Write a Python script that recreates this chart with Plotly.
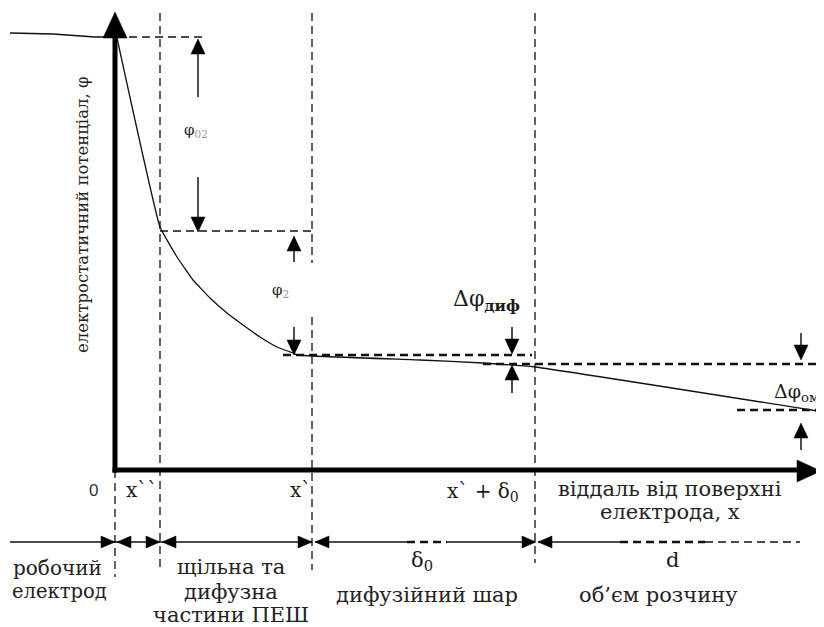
import plotly.graph_objects as go

# ---- schematic data (drawing units = pixels of the 824x627 canvas) ----
# potential profile phi(x)
metal_x = [10, 53, 95, 117]
metal_y = [33, 34, 37, 37]
profile_x = [117, 160, 177, 193, 210, 227, 243, 260, 277, 293, 297, 420, 483, 535, 824]
profile_y = [38, 227, 257, 280, 298, 313, 325, 337, 347, 353, 355, 360, 363, 367, 412]

# boundaries: 0, x``, x`, x`+δ0
bound_x = [115, 160, 312, 535]
bound_top = [470, 13, 13, 13]
bound_bot = [577, 570, 570, 563]

# horizontal dashed reference levels: (x0, x1, y, width)
levels = [
    (116, 202, 37, 1.5),
    (160, 312, 231, 1.5),
    (283, 532, 355, 2.5),
    (483, 824, 364, 2.5),
    (737, 824, 410, 2.5),
]

# measuring arrows: (x, stem_from, tip_y)
meas_arrows = [
    (198, 97, 39), (198, 177, 232),     # φ02
    (294, 262, 236), (294, 327, 355),   # φ2
    (512, 327, 354), (512, 393, 365),   # Δφдиф
    (801, 333, 360), (801, 450, 423),   # Δφом
]

# bottom dimension line (y level) with segments (x0, x1, style)
dim_y = 542
dim_segments = [
    (10, 115, "solid"), (115, 160, "solid"), (160, 312, "solid"),
    (315, 407, "solid"), (407, 447, "dashthick"), (447, 535, "solid"),
    (538, 620, "solid"), (620, 705, "dashthick"), (705, 800, "dash"),
]
# dimension arrowheads: (tip_x, direction)
dim_heads = [(115, "r"), (117, "l"), (160, "r"), (162, "l"),
             (312, "r"), (315, "l"), (536, "r"), (538, "l")]

# axis
axis_origin = (115, 470)
axis_top = 12
axis_right = 821

SERIF = "DejaVu Serif"
SANS = "Liberation Sans"

# labels: (x, y, text, size, family, color)
labels = [
    (93, 490, "0", 17, SANS, "#333333"),
    (141, 490, "x``", 20, SERIF, "#1a1a1a"),
    (300, 490, "x`", 20, SERIF, "#1a1a1a"),
    (483, 492, "x` + δ<sub>0</sub>", 20, SERIF, "#1a1a1a"),
    (670, 489, "віддаль від поверхні", 21, SERIF, "#222222"),
    (670, 512, "електрода, x", 21, SERIF, "#222222"),
    (422, 561, "δ<sub>0</sub>", 21, SERIF, "#1a1a1a"),
    (672, 560, "d", 21, SERIF, "#1a1a1a"),
    (57, 568, "робочий", 20, SERIF, "#222222"),
    (59, 591, "електрод", 19.5, SERIF, "#222222"),
    (231, 567, "щільна та", 21, SERIF, "#222222"),
    (231, 592, "дифузна", 21, SERIF, "#222222"),
    (231, 615, "частини ПЕШ", 21, SERIF, "#222222"),
    (427, 595, "дифузійний шар", 21, SERIF, "#222222"),
    (658, 595, "об’єм розчину", 21, SERIF, "#222222"),
    (196, 130, "φ<sub><span style='color:#999999'>02</span></sub>", 15, SERIF, "#222222"),
    (280, 290, "φ<sub><span style='color:#999999'>2</span></sub>", 15, SERIF, "#222222"),
    (486, 300, "Δφ<sub><b>диф</b></sub>", 22, SERIF, "#1a1a1a"),
]
yaxis_title = "електростатичний потенціал, φ"


def tri(tip_x, tip_y, direction, length, width):
    """polygon of a filled arrowhead"""
    h = width / 2.0
    if direction == "u":
        return [tip_x, tip_x - h, tip_x + h, tip_x], [tip_y, tip_y + length, tip_y + length, tip_y]
    if direction == "d":
        return [tip_x, tip_x - h, tip_x + h, tip_x], [tip_y, tip_y - length, tip_y - length, tip_y]
    if direction == "r":
        return [tip_x, tip_x - length, tip_x - length, tip_x], [tip_y, tip_y - h, tip_y + h, tip_y]
    return [tip_x, tip_x + length, tip_x + length, tip_x], [tip_y, tip_y - h, tip_y + h, tip_y]


fig = go.Figure()
DASH = "8px,5px"

# boundaries (vertical dashed)
for bx, bt, bb in zip(bound_x, bound_top, bound_bot):
    if bx == 312:
        fig.add_trace(go.Scatter(x=[bx, bx, None, bx, bx], y=[bt, 263, None, 317, bb], mode="lines",
                                 line=dict(color="#222", width=1.4, dash=DASH), hoverinfo="skip"))
    else:
        fig.add_trace(go.Scatter(x=[bx, bx], y=[bt, bb], mode="lines",
                                 line=dict(color="#222", width=1.4, dash=DASH), hoverinfo="skip"))

# reference levels
for x0, x1, yy, w in levels:
    fig.add_trace(go.Scatter(x=[x0, x1], y=[yy, yy], mode="lines",
                             line=dict(color="#111", width=w, dash=DASH), hoverinfo="skip"))

# potential profile
fig.add_trace(go.Scatter(x=metal_x, y=metal_y, mode="lines",
                         line=dict(color="#111", width=1.3), hoverinfo="skip"))
fig.add_trace(go.Scatter(x=profile_x, y=profile_y, mode="lines",
                         line=dict(color="#111", width=1.3, shape="spline", smoothing=0.3), hoverinfo="skip"))

# axes
ox, oy = axis_origin
fig.add_trace(go.Scatter(x=[ox, ox, None, ox - 2.5, axis_right - 22], y=[oy + 2.5, axis_top + 24, None, oy, oy],
                         mode="lines", line=dict(color="#000", width=5), hoverinfo="skip"))
hx, hy = [], []
for px_, py_ in [tri(ox, axis_top, "u", 26, 24), tri(axis_right, oy + 1, "r", 24, 22)]:
    hx += px_ + [None]
    hy += py_ + [None]

# measuring arrows
sx, sy = [], []
for ax_, s0, tip in meas_arrows:
    d = "u" if tip < s0 else "d"
    base = tip + 14 if d == "u" else tip - 14
    sx += [ax_, ax_, None]
    sy += [s0, base, None]
    px_, py_ = tri(ax_, tip, d, 15, 14)
    hx += px_ + [None]
    hy += py_ + [None]
fig.add_trace(go.Scatter(x=sx, y=sy, mode="lines", line=dict(color="#222", width=1.6), hoverinfo="skip"))

# dimension line
styles = {"solid": dict(width=1.4, dash="solid"), "dashthick": dict(width=2.5, dash="8px,5px"),
          "dash": dict(width=1.4, dash="8px,5px")}
for x0, x1, st in dim_segments:
    fig.add_trace(go.Scatter(x=[x0, x1], y=[dim_y, dim_y], mode="lines",
                             line=dict(color="#111", **styles[st]), hoverinfo="skip"))
for tx, d in dim_heads:
    px_, py_ = tri(tx, dim_y, d, 14, 12)
    hx += px_ + [None]
    hy += py_ + [None]

fig.add_trace(go.Scatter(x=hx, y=hy, mode="lines", fill="toself", fillcolor="#000",
                         line=dict(color="#000", width=0.5), hoverinfo="skip"))

for lx, ly, txt, sz, fam, col in labels:
    fig.add_annotation(x=lx, y=ly, text=txt, showarrow=False, xref="x", yref="y",
                       font=dict(size=sz, family=fam, color=col), xanchor="center", yanchor="middle")
fig.add_annotation(x=772, y=392, text="Δφ<sub>ом</sub>", showarrow=False, xref="x", yref="y",
                   font=dict(size=19, family=SERIF, color="#1a1a1a"),
                   xanchor="left", yanchor="middle")
fig.add_annotation(x=82, y=215, text=yaxis_title, showarrow=False, xref="x", yref="y", textangle=-90,
                   font=dict(size=16.5, family=SERIF, color="#222"),
                   xanchor="center", yanchor="middle")

# page body has an 8px margin: the figure covers the window area from (8, 8)
OFF = 8
fig.update_layout(
    width=824 - OFF, height=627 - OFF, margin=dict(l=0, r=0, t=0, b=0),
    paper_bgcolor="white", plot_bgcolor="white", showlegend=False,
    font=dict(family=SERIF),
    xaxis=dict(range=[OFF, 824], visible=False, fixedrange=True),
    yaxis=dict(range=[627, OFF], visible=False, fixedrange=True),
)
fig.write_html("out.html", config={"displayModeBar": False})
